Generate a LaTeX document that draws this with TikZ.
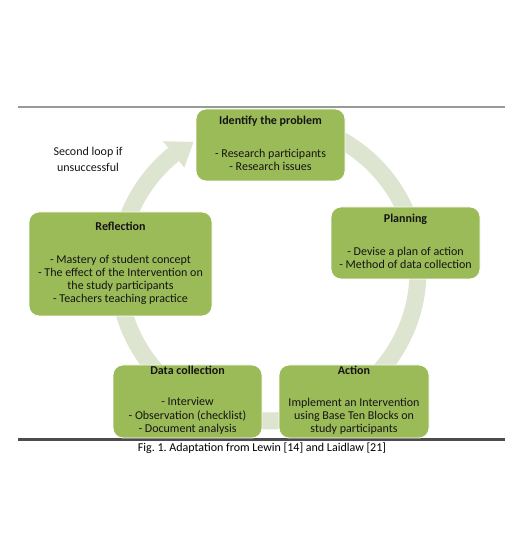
\documentclass[tikz,border=0pt]{standalone}
\usepackage{fontspec}
\setmainfont{Carlito}
\usetikzlibrary{calc}
\frenchspacing
\definecolor{boxgreen}{HTML}{9BBB59}
\definecolor{bandgreen}{HTML}{DDE5D0}
\definecolor{txt}{HTML}{141414}
\tikzset{
  box/.style={draw=white, line width=0.8pt, fill=boxgreen, rounded corners=10pt, inner sep=0pt},
  ttl/.style={font=\fontsize{12}{13.3}\selectfont\bfseries, text=txt, anchor=mid, inner sep=0pt},
  items/.style={font=\fontsize{12}{13.3}\selectfont, text=txt, align=center, anchor=north, inner sep=0pt},
  plain/.style={font=\fontsize{12}{16}\selectfont, text=txt, align=center, inner sep=0pt},
  band/.style={draw=bandgreen, line width=17pt},
}
\begin{document}
\begin{tikzpicture}[x=1pt,y=1pt]
\useasboundingbox (0,0) rectangle (525,545);
% frame lines
\coordinate (tl) at (18,438);
\coordinate (tr) at (505,438);
\coordinate (bl) at (18,105.5);
\coordinate (br) at (505,105.5);
\draw[color=black!40, line width=1.4pt] (tl) -- (tr);
\draw[color=black!70, line width=2.2pt] (bl) -- (br);
% cycle ring
\coordinate (c) at (268,274);
\draw[band] ([shift={(95:150)}]c) arc[start angle=95, end angle=-231, radius=150];
\fill[bandgreen] ([shift={(129:167)}]c) -- ([shift={(120:149)}]c) -- ([shift={(129:133)}]c) -- cycle;
% boxes
\node[box, minimum width=149pt, minimum height=72pt] (idp) at (270.5,400) {};
\node[box, minimum width=149pt, minimum height=72pt] (pln) at (405.5,302) {};
\node[box, minimum width=183pt, minimum height=104pt] (ref) at (120.5,281) {};
\node[box, minimum width=149pt, minimum height=73pt] (dat) at (187.5,143.5) {};
\node[box, minimum width=150pt, minimum height=73pt] (act) at (354,143.5) {};
% texts
\node[ttl] (idpT) at (270.5,423) {Identify the problem};
\node[items] (idpI) at (270.5,396.5) {- Research participants\\- Research issues};
\node[ttl] (plnT) at (405.5,325) {Planning};
\node[items] (plnI) at (405.5,298.5) {- Devise a plan of action\\- Method of data collection};
\node[ttl] (refT) at (120.5,317) {Reflection};
\node[items] (refI) at (120.5,290.5) {- Mastery of student concept\\- The effect of the Intervention on\\the study participants\\- Teachers teaching practice};
\node[ttl] (datT) at (187.5,173) {Data collection};
\node[items] (datI) at (187.5,147.5) {- Interview\\- Observation (checklist)\\- Document analysis};
\node[ttl] (actT) at (354,173) {Action};
\node[items] (actI) at (354,147.5) {Implement an Intervention\\using Base Ten Blocks on\\study participants};
\node[plain] (loop) at (88,386) {Second loop if\\unsuccessful};
\node[font=\fontsize{12}{13.3}\selectfont, text=black, inner sep=0pt] (cap) at (262,97) {Fig. 1. Adaptation from Lewin [14] and Laidlaw [21]};
\end{tikzpicture}
\end{document}
